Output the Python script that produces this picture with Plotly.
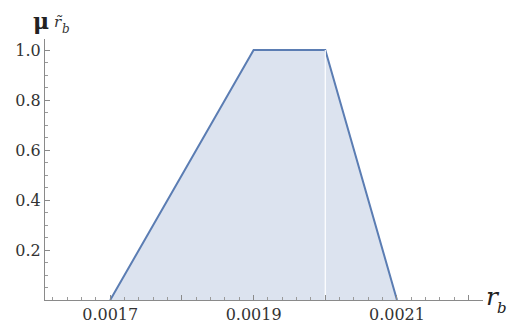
import plotly.graph_objects as go

# Trapezoidal membership function of r_b
rb_points = [0.0017, 0.0019, 0.0020, 0.0021]
mu_points = [0.0, 1.0, 1.0, 0.0]
split_x = [0.0020, 0.0020]
split_y = [0.0, 1.0]

x_tick_vals = [0.0016, 0.0017, 0.0018, 0.0019, 0.0020, 0.0021, 0.0022]
x_tick_text = ["", "0.0017", "", "0.0019", "", "0.0021", ""]
y_tick_vals = [0.2, 0.4, 0.6, 0.8, 1.0]
y_tick_text = ["0.2", "0.4", "0.6", "0.8", "1.0"]

# page has an 8px body margin, so the figure is sized/offset to compensate
OFF = 8
W, H = 515 - OFF, 328 - OFF
ml, mr, mt, mb = 45 - OFF, 32, 39 - OFF, 28
pw, ph = W - ml - mr, H - mt - mb

def px(x):
    return (x - OFF - ml) / pw

def py(y):
    return (H - mb - (y - OFF)) / ph

fig = go.Figure()
fig.add_trace(go.Scatter(
    x=rb_points, y=mu_points, mode="lines",
    fill="tozeroy", fillcolor="rgba(214,222,236,0.85)",
    line=dict(color="#5b7db3", width=2),
    hoverinfo="skip", showlegend=False,
))
fig.add_trace(go.Scatter(
    x=split_x, y=split_y, mode="lines",
    line=dict(color="white", width=1.2),
    hoverinfo="skip", showlegend=False,
))

font_serif = "DejaVu Serif"

fig.update_layout(
    width=W, height=H,
    margin=dict(l=ml, r=mr, t=mt, b=mb, autoexpand=False),
    paper_bgcolor="white", plot_bgcolor="white",
    font=dict(family=font_serif, size=16, color="#333333"),
    xaxis=dict(
        range=[0.001609, 0.00222], automargin=False,
        showgrid=False, zeroline=False,
        showline=True, linecolor="#8a8a8a", linewidth=1.2,
        tickmode="array", tickvals=x_tick_vals, ticktext=x_tick_text,
        ticks="inside", ticklen=5, tickwidth=1, tickcolor="#8a8a8a",
        minor=dict(dtick=0.00002, ticks="inside", ticklen=2.5,
                   tickwidth=1, tickcolor="#9a9a9a", showgrid=False),
        tickfont=dict(family=font_serif, size=16, color="#333333"),
    ),
    yaxis=dict(
        range=[0, 1.044], automargin=False,
        showgrid=False, zeroline=False,
        showline=True, linecolor="#8a8a8a", linewidth=1.2,
        tickmode="array", tickvals=y_tick_vals, ticktext=y_tick_text,
        ticks="inside", ticklen=5, tickwidth=1, tickcolor="#8a8a8a",
        minor=dict(dtick=0.05, tick0=0, ticks="inside", ticklen=2.5,
                   tickwidth=1, tickcolor="#9a9a9a", showgrid=False),
        tickfont=dict(family=font_serif, size=16, color="#333333"),
    ),
)

fig.add_annotation(xref="paper", yref="paper", x=px(41), y=py(21),
                   text="<b>μ</b>", showarrow=False,
                   xanchor="center", yanchor="middle",
                   font=dict(family=font_serif, size=22, color="#222222"))
fig.add_annotation(xref="paper", yref="paper", x=px(52), y=py(22),
                   text="<i>r̃</i>", showarrow=False,
                   xanchor="left", yanchor="middle",
                   font=dict(family=font_serif, size=15, color="#333333"))
fig.add_annotation(xref="paper", yref="paper", x=px(60), y=py(29),
                   text="<i>b</i>", showarrow=False,
                   xanchor="left", yanchor="middle",
                   font=dict(family=font_serif, size=12, color="#333333"))
fig.add_annotation(xref="paper", yref="paper", x=px(484), y=py(296),
                   text="<i>r</i>", showarrow=False,
                   xanchor="left", yanchor="middle",
                   font=dict(family=font_serif, size=25, color="#222222"))
fig.add_annotation(xref="paper", yref="paper", x=px(495), y=py(308),
                   text="<i>b</i>", showarrow=False,
                   xanchor="left", yanchor="middle",
                   font=dict(family=font_serif, size=15, color="#222222"))

fig.write_html("out.html")
